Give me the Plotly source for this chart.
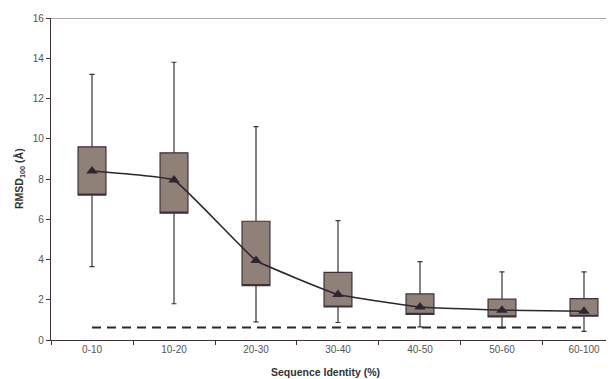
import plotly.graph_objects as go

categories = ["0-10", "10-20", "20-30", "30-40", "40-50", "50-60", "60-100"]
whisker_low = [3.65, 1.8, 0.9, 0.87, 0.65, 0.6, 0.43]
box_low = [7.2, 6.3, 2.7, 1.64, 1.27, 1.15, 1.18]
box_high = [9.6, 9.3, 5.9, 3.36, 2.29, 2.03, 2.06]
whisker_high = [13.2, 13.8, 10.6, 5.93, 3.89, 3.39, 3.39]
mean_values = [8.4, 7.95, 3.95, 2.26, 1.64, 1.48, 1.43]
baseline_value = [0.62] * len(categories)

y_ticks = [0, 2, 4, 6, 8, 10, 12, 14, 16]

dark = "#2f2530"

fig = go.Figure()

fig.add_trace(go.Box(
    x=categories,
    q1=box_low,
    median=box_low,
    q3=box_high,
    lowerfence=whisker_low,
    upperfence=whisker_high,
    width=0.34,
    whiskerwidth=0.18,
    fillcolor="#8f8178",
    line=dict(color="#3d3238", width=1.2),
    boxpoints=False,
    showlegend=False,
    hoverinfo="skip",
))

fig.add_trace(go.Scatter(
    x=categories,
    y=baseline_value,
    mode="lines",
    line=dict(color=dark, width=2.2, dash="9px,6px"),
    showlegend=False,
))

fig.add_trace(go.Scatter(
    x=categories,
    y=mean_values,
    mode="lines+markers",
    line=dict(color=dark, width=1.6, shape="spline", smoothing=0.25),
    marker=dict(symbol="triangle-up", size=10, color=dark),
    showlegend=False,
))

# page body has a default 8px margin; margins below compensate for it
fig.update_layout(
    width=614,
    height=379,
    margin=dict(l=43, r=8, t=10, b=47, autoexpand=False),
    plot_bgcolor="white",
    paper_bgcolor="white",
    font=dict(family="Liberation Sans, Arial, sans-serif", size=10, color="#555555"),
    xaxis=dict(
        type="category",
        categoryorder="array",
        categoryarray=categories,
        range=[-0.5, 6.366],
        automargin=False,
        showgrid=False,
        zeroline=False,
        showline=True,
        linecolor="#3d3238",
        linewidth=1.2,
        ticks="outside",
        tickson="boundaries",
        ticklen=4,
        tickcolor="#3d3238",
        tickfont=dict(size=10, color="#555555"),
    ),
    yaxis=dict(
        range=[0, 16],
        tickvals=y_ticks,
        automargin=False,
        showgrid=False,
        zeroline=False,
        showline=True,
        linecolor="#3d3238",
        linewidth=1.2,
        ticks="outside",
        ticklen=4,
        tickcolor="#3d3238",
        tickfont=dict(size=10, color="#555555"),
    ),
    shapes=[dict(
        type="line", xref="paper", yref="y",
        x0=0, x1=1, y0=16, y1=16,
        line=dict(color="#8f8a8e", width=1.5),
    )],
    annotations=[
        dict(
            text="<b>Sequence Identity (%)</b>",
            xref="paper", yref="paper",
            x=0.487, y=-0.1, xanchor="center", yanchor="middle",
            showarrow=False,
            font=dict(size=10.5, color="#333333"),
        ),
        dict(
            text="<b>RMSD<sub>100</sub> (Å)</b>",
            xref="paper", yref="paper",
            x=-0.055, y=0.5, xanchor="center", yanchor="middle",
            textangle=-90,
            showarrow=False,
            font=dict(size=10.5, color="#333333"),
        ),
    ],
)

fig.write_html("out.html")
